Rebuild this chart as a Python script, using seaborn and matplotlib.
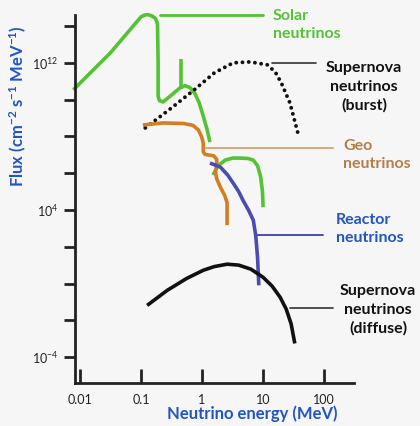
import numpy as np
import pandas as pd
import matplotlib
matplotlib.use("Agg")
import matplotlib.pyplot as plt
import seaborn as sns

# ---- data (log10 energy in MeV, log10 flux) ----
solar_logE = [-2.11, -1.5, -1.00, -0.94, -0.89, -0.82, -0.76, -0.73, -0.72, -0.72, -0.70, -0.64, -0.50, -0.36, -0.28, -0.20, -0.12, -0.05, 0.02, 0.08, 0.13]
solar_logF = [10.53, 12.55, 14.50, 14.60, 14.62, 14.55, 14.40, 14.1, 12.0, 10.2, 9.95, 9.87, 10.25, 10.64, 10.76, 10.66, 10.35, 9.85, 9.10, 8.40, 7.69]

solar_be_logE = [-0.34, -0.34]
solar_be_logF = [12.22, 10.59]

solar_hep_logE = [0.18, 0.26, 0.38, 0.50, 0.62, 0.75, 0.84, 0.91, 0.96, 0.99, 1.00]
solar_hep_logF = [5.90, 6.40, 6.71, 6.82, 6.82, 6.80, 6.71, 6.40, 5.80, 5.00, 4.15]

burst_logE = [-0.93, -0.50, -0.11, 0.20, 0.51, 0.79, 1.07, 1.20, 1.30, 1.44, 1.57]
burst_logF = [8.46, 9.55, 10.58, 11.45, 12.0, 12.05, 11.89, 11.50, 10.90, 9.82, 8.19]

geo_logE = [-0.97, -0.64, -0.30, -0.15, -0.06, -0.01, 0.02, 0.02, 0.05, 0.10, 0.19, 0.24, 0.24, 0.22, 0.24, 0.30, 0.37, 0.41, 0.41]
geo_logF = [8.62, 8.73, 8.70, 8.60, 8.35, 8.0, 7.64, 7.15, 7.02, 6.99, 6.95, 6.75, 6.45, 6.10, 5.70, 5.24, 4.80, 4.40, 3.17]

reactor_logE = [0.13, 0.30, 0.42, 0.51, 0.60, 0.67, 0.76, 0.84, 0.88, 0.91, 0.93]
reactor_logF = [6.55, 6.33, 5.90, 5.46, 5.00, 4.53, 4.00, 3.44, 2.60, 1.40, -0.10]

diffuse_logE = [-0.90, -0.57, -0.25, 0.02, 0.20, 0.41, 0.60, 0.80, 1.00, 1.15, 1.28, 1.38, 1.46, 1.52]
diffuse_logF = [-1.19, -0.37, 0.28, 0.72, 0.92, 1.05, 1.00, 0.78, 0.34, -0.15, -0.75, -1.40, -2.20, -3.26]

x_ticks = [0.01, 0.1, 1, 10, 100]
x_ticklabels = ["0.01", "0.1", "1", "10", "100"]
y_ticks_exp = [14, 12, 10, 8, 6, 4, 2, 0, -2, -4]
y_labeled = {12: r"10$^{12}$", 4: r"10$^{4}$", -4: r"10$^{-4}$"}

GREEN = "#55C236"
ORANGE = "#D27E22"
GEOTXT = "#B57E48"
BLUE = "#4A4DB0"
BLACK = "#111111"
TITLEBLUE = "#2255C0"
BG = "#F6F6F6"

sns.set_style("ticks")
plt.rcParams["font.family"] = ["Lato", "DejaVu Sans"]
plt.rcParams["mathtext.fontset"] = "custom"
plt.rcParams["mathtext.rm"] = "Lato"
plt.rcParams["mathtext.it"] = "Lato:italic"
plt.rcParams["mathtext.bf"] = "Lato:bold"

fig = plt.figure(figsize=(4.2, 4.26), dpi=100, facecolor=BG)
W, H = 420, 426
ax = fig.add_axes([75 / W, 1 - 383 / H, (354 - 75) / W, (383 - 15) / H])
ax.set_facecolor(BG)


def frame(le, lf):
    return pd.DataFrame({"E": 10 ** np.array(le), "F": 10 ** np.array(lf)})


def draw(le, lf, color, **kw):
    sns.lineplot(data=frame(le, lf), x="E", y="F", sort=False, ax=ax,
                 color=color, lw=2.6, estimator=None, clip_on=False,
                 solid_joinstyle="round", solid_capstyle="butt", **kw)


ax.set_xscale("log")
ax.set_yscale("log")

draw(solar_logE, solar_logF, GREEN)
draw(solar_be_logE, solar_be_logF, GREEN)
draw(solar_hep_logE, solar_hep_logF, GREEN)
sns.lineplot(data=frame(burst_logE, burst_logF), x="E", y="F", sort=False, ax=ax,
             color=BLACK, lw=2.8, linestyle=(0, (0.01, 1.6)), estimator=None,
             dash_capstyle="round")
draw(geo_logE, geo_logF, ORANGE)
draw(reactor_logE, reactor_logF, BLUE)
draw(diffuse_logE, diffuse_logF, BLACK)

ax.set_xlim(10 ** -2.082, 10 ** 2.49)
ax.set_ylim(10 ** -5.41, 10 ** 14.6)

ax.set_xticks(x_ticks)
ax.set_xticklabels(x_ticklabels)
ax.xaxis.set_minor_locator(matplotlib.ticker.NullLocator())
ax.set_yticks([10.0 ** e for e in y_ticks_exp])
ax.set_yticklabels([y_labeled.get(e, "") for e in y_ticks_exp])
ax.yaxis.set_minor_locator(matplotlib.ticker.NullLocator())

ax.tick_params(axis="x", direction="in", length=10, width=2, color="#222222",
               labelsize=9, pad=8, labelcolor="#222222")
ax.tick_params(axis="y", direction="out", length=8, width=2, color="#222222",
               labelsize=9, pad=4, labelcolor="#222222")
for s in ["top", "right"]:
    ax.spines[s].set_visible(False)
for s in ["left", "bottom"]:
    ax.spines[s].set_linewidth(2)
    ax.spines[s].set_color("#222222")
ax.set_xlabel("")
ax.set_ylabel("")

# axis titles
fig.text(252 / W, 1 - 414 / H, "Neutrino energy (MeV)", color=TITLEBLUE,
         fontsize=12, fontweight="bold", ha="center", va="center")
fig.text(18 / W, 1 - 106 / H, r"Flux (cm$^{\mathbf{-2}}$ s$^{\mathbf{-1}}$ MeV$^{\mathbf{-1}}$)",
         color=TITLEBLUE, fontsize=12, fontweight="bold", rotation=90,
         ha="center", va="center")


def fx(x):
    return x / W


def fy(y):
    return 1 - y / H


def leader(x0, x1, y, color, lw=1.4):
    fig.add_artist(matplotlib.lines.Line2D([fx(x0), fx(x1)], [fy(y), fy(y)],
                                           color=color, lw=lw))


LBL = dict(fontsize=11.5, fontweight="bold", va="center", linespacing=1.4)

leader(160, 263, 15, GREEN, 2.0)
fig.text(fx(273), fy(25), "Solar\nneutrinos", color=GREEN, ha="left", **LBL)

leader(272, 316, 63, "#333333", 1.2)
fig.text(fx(364), fy(87), "Supernova\nneutrinos\n(burst)", color=BLACK,
         ha="center", multialignment="center", **LBL)

leader(206, 333, 148, "#D9A878", 1.4)
fig.text(fx(343), fy(155), "Geo\nneutrinos", color=GEOTXT, ha="left", **LBL)

leader(257, 323, 235, BLUE, 1.4)
fig.text(fx(336), fy(229), "Reactor\nneutrinos", color=TITLEBLUE, ha="left", **LBL)

leader(290, 333, 308, "#333333", 1.2)
fig.text(fx(378), fy(310), "Supernova\nneutrinos\n(diffuse)", color=BLACK,
         ha="center", multialignment="center", **LBL)

fig.savefig("out.png", dpi=100, facecolor=BG)
